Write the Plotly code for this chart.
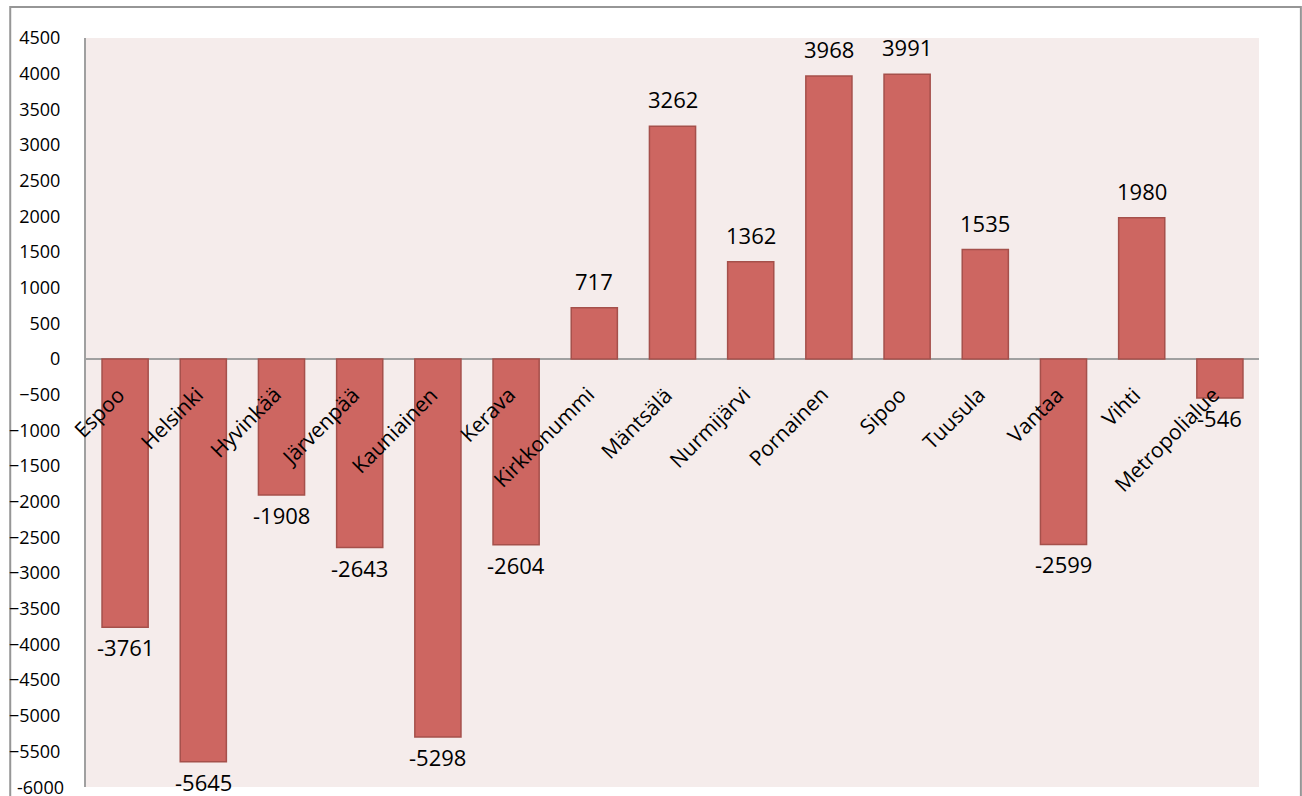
import plotly.graph_objects as go

# municipalities and values
municipalities = [
    "Espoo", "Helsinki", "Hyvinkää", "Järvenpää", "Kauniainen", "Kerava",
    "Kirkkonummi", "Mäntsälä", "Nurmijärvi", "Pornainen", "Sipoo", "Tuusula",
    "Vantaa", "Vihti", "Metropolialue",
]
values = [-3761, -5645, -1908, -2643, -5298, -2604, 717, 3262, 1362, 3968, 3991, 1535, -2599, 1980, -546]

y_ticks = list(range(-6000, 4501, 500))

FONT = "Open Sans, Liberation Sans, sans-serif"
BAR = "#CD6661"
BAR_EDGE = "#A5504B"
GREY = "#A0A0A0"

fig = go.Figure()
fig.add_trace(go.Bar(
    x=municipalities,
    y=values,
    marker=dict(color=BAR, line=dict(color=BAR_EDGE, width=1.5)),
    hoverinfo="x+y",
))

annotations = []
for name, v in zip(municipalities, values):
    # value labels above positive bars, below negative ones
    annotations.append(dict(
        x=name, y=v, xref="x", yref="y", text=str(v), showarrow=False,
        yanchor="bottom" if v > 0 else "top",
        yshift=10 if v > 0 else -3,
        font=dict(family=FONT, size=22, color="#000000"),
    ))
    # rotated category labels just below the zero line
    annotations.append(dict(
        x=name, y=0, xref="x", yref="y", text=name, showarrow=False,
        textangle=-45, xanchor="right", yanchor="top",
        xshift=8, yshift=-19,
        font=dict(family=FONT, size=21, color="#000000"),
    ))

# plotly drops the bottom tick label at the very edge, so draw it by hand
annotations.append(dict(
    x=0, xref="paper", y=y_ticks[0], yref="y", text=str(y_ticks[0]),
    showarrow=False, xanchor="right", yanchor="middle", xshift=-20,
    font=dict(family=FONT, size=18, color="#000000"),
))

fig.update_layout(
    width=1302,
    height=796,
    margin=dict(l=82, r=43, t=38, b=9),
    paper_bgcolor="#FFFFFF",
    plot_bgcolor="#F5ECEB",
    showlegend=False,
    bargap=0.41,
    font=dict(family=FONT, color="#000000"),
    annotations=annotations,
    shapes=[dict(
        type="rect", xref="paper", yref="paper",
        x0=-0.0646, x1=1.0357, y0=-0.2, y1=1.0414,
        line=dict(color="#969696", width=2), layer="below",
    )],
)
fig.update_xaxes(
    showticklabels=False, showline=False, showgrid=False, zeroline=False,
    range=[-0.5, len(municipalities) - 0.5],
)
fig.update_yaxes(
    range=[-6000, 4500], tickvals=y_ticks[1:], ticks="",
    ticklabelstandoff=20,
    tickfont=dict(family=FONT, size=18, color="#000000"),
    showgrid=False, showline=True, linecolor=GREY, linewidth=2,
    zeroline=True, zerolinecolor=GREY, zerolinewidth=2,
)

fig.write_html(
    "out.html",
    config={"displayModeBar": False},
    post_script="document.body.style.margin='0';",
)
